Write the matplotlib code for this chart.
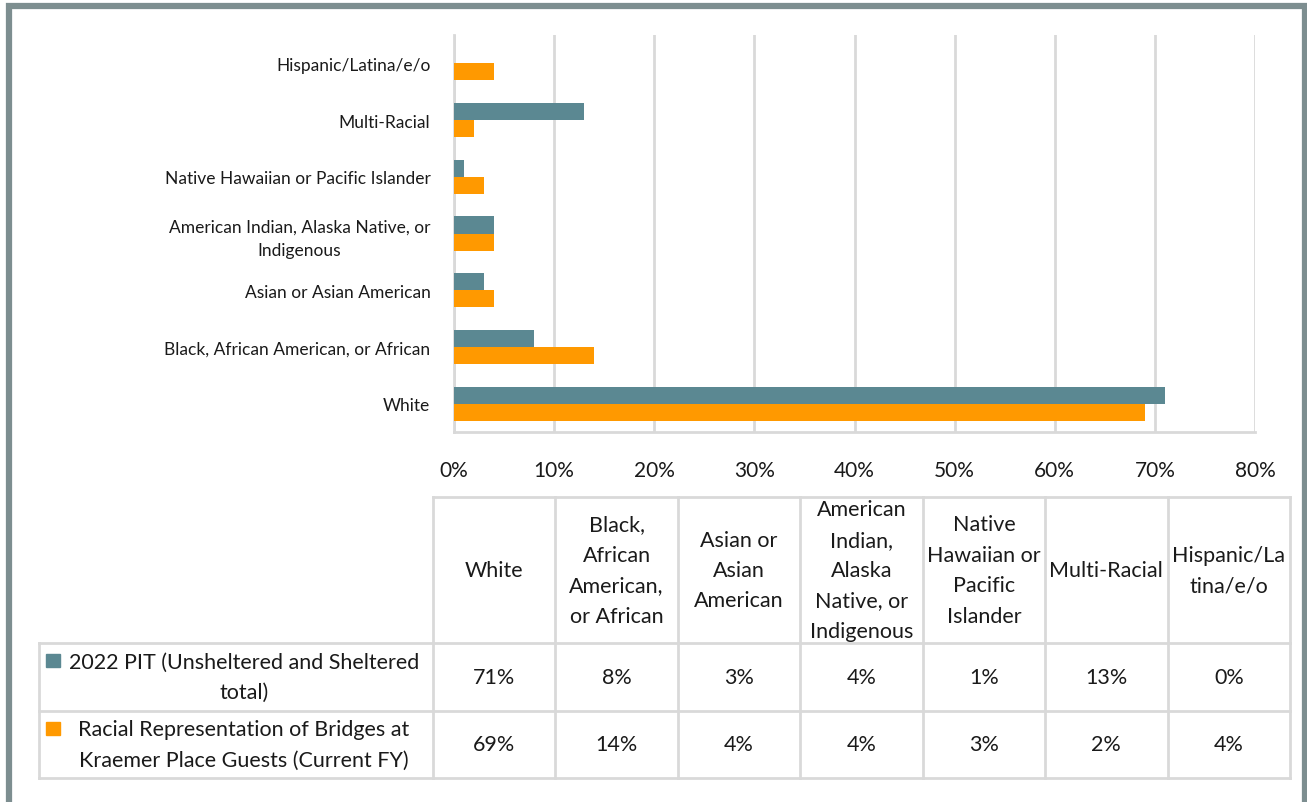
import numpy as np
import matplotlib.pyplot as plt
from matplotlib.patches import Rectangle

# categories, bottom of the chart first
categories = ['White', 'Black, African American, or African', 'Asian or Asian American',
              'American Indian, Alaska Native, or\nIndigenous',
              'Native Hawaiian or Pacific Islander', 'Multi-Racial', 'Hispanic/Latina/e/o']
table_headers = ['White', 'Black,\nAfrican\nAmerican,\nor African', 'Asian or\nAsian\nAmerican',
                 'American\nIndian,\nAlaska\nNative, or\nIndigenous',
                 'Native\nHawaiian or\nPacific\nIslander', 'Multi-Racial', 'Hispanic/La\ntina/e/o']
pit_2022 = [71, 8, 3, 4, 1, 13, 0]
bridges_fy = [69, 14, 4, 4, 3, 2, 4]
series_names = ['2022 PIT (Unsheltered and Sheltered\ntotal)',
                'Racial Representation of Bridges at\nKraemer Place Guests (Current FY)']
x_ticks = [0, 10, 20, 30, 40, 50, 60, 70, 80]

TEAL = '#5B8892'
ORANGE = '#FF9900'
GRID = '#D9D9D9'
BORDER = '#7D8E90'
TXT = '#1a1a1a'
FONT = ['Lato', 'DejaVu Sans']

plt.rcParams['font.family'] = FONT

W, H = 1307, 803
fig = plt.figure(figsize=(W / 100, H / 100), dpi=100)

# bar chart
ax = fig.add_axes([454 / W, 1 - 433 / H, (1255 - 454) / W, (433 - 36) / H])
y = np.arange(len(categories))
bh = 0.3
ax.barh(y + bh / 2, pit_2022, height=bh, color=TEAL, zorder=3)
ax.barh(y - bh / 2, bridges_fy, height=bh, color=ORANGE, zorder=3)
ax.set_xlim(0, 80)
ax.set_ylim(-0.5, len(categories) - 0.5)
ax.set_xticks(x_ticks)
ax.set_xticklabels([f'{t}%' for t in x_ticks], fontsize=15, color=TXT)
ax.set_yticks(y)
ax.set_yticklabels(categories, fontsize=12.5, color=TXT, multialignment='center',
                   linespacing=1.55)
ax.tick_params(axis='x', length=0, pad=20)
ax.tick_params(axis='y', length=0, pad=17)
ax.grid(axis='x', color=GRID, linewidth=2, zorder=0)
for side in ['top', 'right']:
    ax.spines[side].set_visible(False)
for side in ['left', 'bottom']:
    ax.spines[side].set_color(GRID)
    ax.spines[side].set_linewidth(2)

# overlay in pixel coordinates for the data table and the frame
ov = fig.add_axes([0, 0, 1, 1])
ov.set_xlim(0, W)
ov.set_ylim(H, 0)
ov.axis('off')

col_edges = np.linspace(433, 1290, len(table_headers) + 1)
row_edges = [498, 644, 712, 779]
label_left = 39
lw = 2
fs = 15.5

# grid lines
ov.plot([col_edges[0], col_edges[-1]], [row_edges[0]] * 2, color=GRID, lw=lw)
for r in row_edges[1:]:
    ov.plot([label_left, col_edges[-1]], [r, r], color=GRID, lw=lw)
for c in col_edges:
    ov.plot([c, c], [row_edges[0], row_edges[-1]], color=GRID, lw=lw)
ov.plot([label_left, label_left], [row_edges[1], row_edges[-1]], color=GRID, lw=lw)

centers = (col_edges[:-1] + col_edges[1:]) / 2
for cx, head in zip(centers, table_headers):
    ov.text(cx, (row_edges[0] + row_edges[1]) / 2, head, ha='center', va='center',
            fontsize=fs, linespacing=1.65, color=TXT)

for i, (name, vals, color) in enumerate([(series_names[0], pit_2022, TEAL),
                                         (series_names[1], bridges_fy, ORANGE)]):
    top, bot = row_edges[i + 1], row_edges[i + 2]
    cy = (top + bot) / 2
    ov.add_patch(Rectangle((46, top + 11), 14, 13, color=color))
    ov.text(244, cy, name, ha='center', va='center', fontsize=fs,
            linespacing=1.65, color=TXT)
    for cx, v in zip(centers, vals):
        ov.text(cx, cy, f'{v}%', ha='center', va='center', fontsize=fs, color=TXT)

# outer frame (left, top, right)
ov.plot([8.5, 8.5, 1304.5, 1304.5], [H + 5, 6.5, 6.5, H + 5], color=BORDER, lw=4.5,
        solid_joinstyle='miter', clip_on=False)

fig.savefig('out.png', dpi=100)
